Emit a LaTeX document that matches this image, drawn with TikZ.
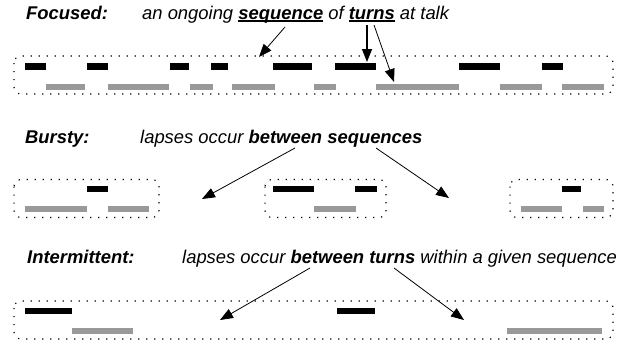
\documentclass[tikz,border=0pt]{standalone}
\usepackage{fontspec}
\setmainfont{Liberation Sans}
\usetikzlibrary{arrows.meta}
\newcommand\ulword[1]{\setbox0\hbox{\bfseries #1}\rlap{\rule[-2.6pt]{\wd0}{1.4pt}}\box0\relax}
\tikzset{
  lbl/.style={anchor=base west, inner sep=0pt, font=\fontsize{18.4}{22}\selectfont\bfseries\itshape},
  desc/.style={anchor=base west, inner sep=0pt, font=\fontsize{18.4}{22}\selectfont\itshape},
  grp/.style={draw, line width=1.2pt, dash pattern=on 1.2pt off 6.8pt, rounded corners=7pt},
  spk/.style={fill=black},
  lis/.style={fill=black!40},
  arr/.style={-{Triangle[length=13pt,width=10pt]}, line width=0.8pt},
  arrb/.style={-{Triangle[length=13pt,width=10pt]}, line width=1.4pt}
}
\begin{document}
\begin{tikzpicture}[x=1pt,y=-1pt]
\useasboundingbox (0,0) rectangle (626,343);
% ---------- Focused ----------
\node[lbl] (lf) at (26,19) {Focused:};
\node[desc] (df) at (142,19) {an ongoing \ulword{sequence} of \ulword{turns} at talk};
\draw[grp] (14,56) rectangle (613,94);
\foreach \a/\b in {25/46,87/108,170/189,211/228,273/312,335/376,459/500,542/563}
  \fill[spk] (\a,63) rectangle (\b,69.5);
\foreach \a/\b in {46/85,108/169,190/213,232/275,314/336,376/459,500/542,562/604}
  \fill[lis] (\a,83.5) rectangle (\b,90);
\coordinate (fs1) at (285,27);  \coordinate (ft1) at (259,57);
\coordinate (fs2) at (367,25);  \coordinate (ft2) at (367,62);
\coordinate (fs3) at (374,25);  \coordinate (ft3) at (394,82);
\draw[arr] (fs1) -- (ft1);
\draw[arrb] (fs2) -- (ft2);
\draw[arr] (fs3) -- (ft3);
% ---------- Bursty ----------
\node[lbl] (lb) at (25,143) {Bursty:};
\node[desc] (db) at (140,143) {lapses occur \textbf{between sequences}};
\draw[grp] (14,179.5) rectangle (159,217.5);
\draw[grp] (265,179.5) rectangle (386,217.5);
\draw[grp] (510,179.5) rectangle (613,217.5);
\foreach \a/\b in {87/108,273/314,355/377,562/581}
  \fill[spk] (\a,185.5) rectangle (\b,192);
\foreach \a/\b in {25/87,108/149,314/356,521/562,583/604}
  \fill[lis] (\a,205.5) rectangle (\b,212);
\coordinate (bs1) at (295,148);  \coordinate (bt1) at (202,199);
\coordinate (bs2) at (376,148);  \coordinate (bt2) at (449,198);
\draw[arr] (bs1) -- (bt1);
\draw[arr] (bs2) -- (bt2);
% ---------- Intermittent ----------
\node[lbl] (li) at (27,263) {Intermittent:};
\node[desc] (di) at (182,263) {lapses occur \textbf{between turns} within a given sequence};
\draw[grp] (14,301) rectangle (613,339);
\foreach \a/\b in {25/72,337/375}
  \fill[spk] (\a,307.5) rectangle (\b,314);
\foreach \a/\b in {72/133,507/602}
  \fill[lis] (\a,327.5) rectangle (\b,334);
\coordinate (is1) at (310,268);  \coordinate (it1) at (220,320);
\coordinate (is2) at (394,268);  \coordinate (it2) at (464,320);
\draw[arr] (is1) -- (it1);
\draw[arr] (is2) -- (it2);
\end{tikzpicture}
\end{document}
